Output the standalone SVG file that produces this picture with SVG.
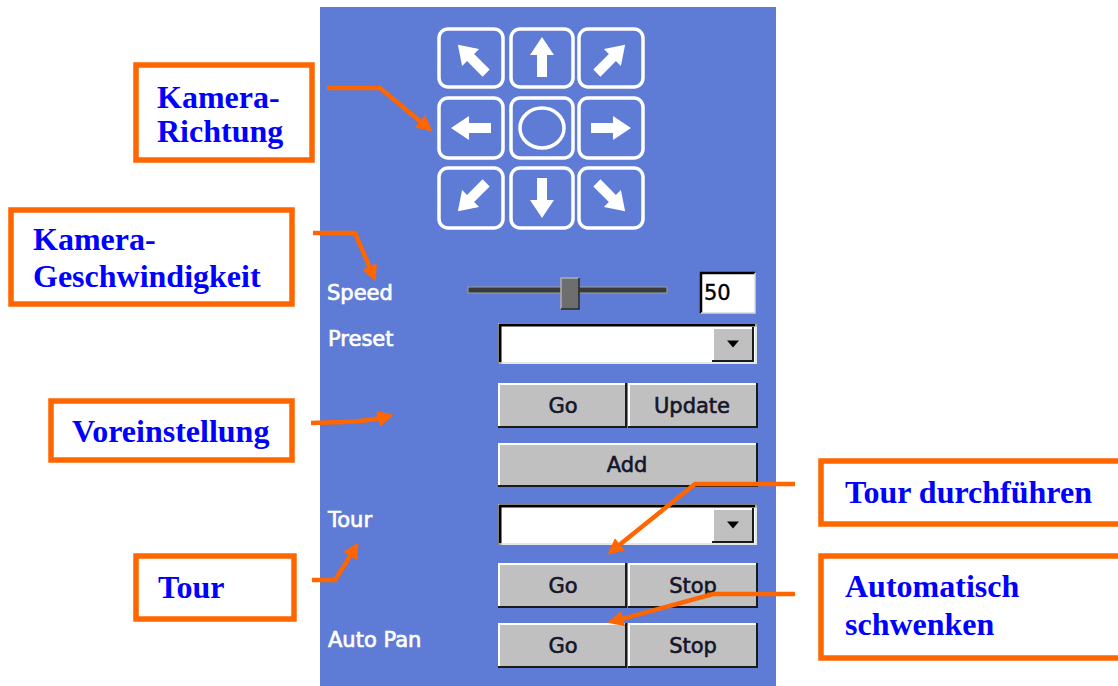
<svg xmlns="http://www.w3.org/2000/svg" width="1118" height="686" viewBox="0 0 1118 686">
  <style>
    .callout { fill: #ffffff; stroke: #ff6600; stroke-width: 5.5; }
    .ctext { font-family: "Liberation Serif", "Times New Roman", serif; font-weight: bold; font-size: 32px; fill: #0000ff; }
    .wire { fill: none; stroke: #ff6600; stroke-width: 4.5; stroke-linejoin: miter; marker-end: url(#head); }
    .lbl { font-family: "DejaVu Sans", Verdana, sans-serif; font-size: 21px; fill: #ffffff; stroke: #ffffff; stroke-width: 0.7; }
    .btxt { font-family: "DejaVu Sans", Verdana, sans-serif; font-size: 21px; fill: #15152a; stroke: #15152a; stroke-width: 0.6; text-anchor: middle; }
    .face { fill: #c0c0c0; }
    .hi { fill: none; stroke: #ffffff; stroke-width: 2; }
    .sh { fill: none; stroke: #1a1a1a; stroke-width: 2; }
    .pad { fill: none; stroke: #ffffff; stroke-width: 3.5; }
    .padarrow { fill: #ffffff; }
  </style>
  <defs>
    <marker id="head" viewBox="0 0 10 10" refX="7" refY="5" markerWidth="18" markerHeight="16" markerUnits="userSpaceOnUse" orient="auto">
      <path d="M0,0 L10,5 L0,10 Z" fill="#ff6600"/>
    </marker>
    <!-- white direction arrow, pointing up, centred on the origin -->
    <path id="dirArrow" class="padarrow" d="M0,-20 L12,-2 L5,-2 L5,20 L-5,20 L-5,-2 L-12,-2 Z"/>
    <path id="tri" d="M-6,-3.5 L6,-3.5 L0,3.5 Z" fill="#000000"/>
  </defs>

  <!-- control panel background -->
  <rect id="panel" x="320" y="7" width="456" height="679" fill="#5e7bd6"/>

  <!-- direction pad -->
  <g id="dpad">
    <rect class="pad" x="439" y="29" width="64" height="58" rx="9"/>
    <rect class="pad" x="511" y="29" width="62" height="58" rx="9"/>
    <rect class="pad" x="579" y="29" width="64" height="58" rx="9"/>
    <rect class="pad" x="439" y="98" width="64" height="60" rx="9"/>
    <rect class="pad" x="511" y="98" width="62" height="60" rx="9"/>
    <rect class="pad" x="579" y="98" width="64" height="60" rx="9"/>
    <rect class="pad" x="439" y="168" width="64" height="60" rx="9"/>
    <rect class="pad" x="511" y="168" width="62" height="60" rx="9"/>
    <rect class="pad" x="579" y="168" width="64" height="60" rx="9"/>
    <use href="#dirArrow" transform="translate(472,59) rotate(-45)"/>
    <use href="#dirArrow" transform="translate(542,57)"/>
    <use href="#dirArrow" transform="translate(611,59) rotate(45)"/>
    <use href="#dirArrow" transform="translate(471,128) rotate(-90)"/>
    <ellipse class="pad" cx="542" cy="128" rx="22" ry="20"/>
    <use href="#dirArrow" transform="translate(611,128) rotate(90)"/>
    <use href="#dirArrow" transform="translate(472,197) rotate(-135)"/>
    <use href="#dirArrow" transform="translate(542,198) rotate(180)"/>
    <use href="#dirArrow" transform="translate(611,197) rotate(135)"/>
  </g>

  <!-- speed slider -->
  <g id="speed">
    <text class="lbl" x="327" y="300">Speed</text>
    <rect x="468" y="287" width="199" height="6" fill="#3a3a3a" stroke="#a0a0a0" stroke-width="1"/>
    <rect x="561" y="278" width="18" height="31" fill="#6e6e6e"/>
    <path d="M561,309 V278 H579" fill="none" stroke="#b0b0b0" stroke-width="1.5"/>
    <path d="M579,278 V309 H561" fill="none" stroke="#2a2a2a" stroke-width="1.5"/>
    <rect x="700" y="272" width="55" height="41" fill="#ffffff"/>
    <path d="M701,313 V273 H755" fill="none" stroke="#000000" stroke-width="2.5"/>
    <path d="M755,273 V313 H701" fill="none" stroke="#d8d8d8" stroke-width="1.5"/>
    <text x="704" y="300" font-family="DejaVu Sans, sans-serif" font-size="21" fill="#000000" stroke="#000000" stroke-width="0.4">50</text>
  </g>

  <!-- preset selection -->
  <g id="preset">
    <text class="lbl" x="328" y="346">Preset</text>
    <rect x="498" y="323" width="259" height="41" fill="#ffffff"/>
    <path d="M500,364 V325 H757" fill="none" stroke="#000000" stroke-width="3"/>
    <path d="M756,324 V363 H499" fill="none" stroke="#e0e0e0" stroke-width="1.5"/>
    <rect class="face" x="712" y="327" width="41" height="34"/>
    <path class="hi" d="M713,361 V328 H753"/>
    <path class="sh" d="M753,327 V361 H712"/>
    <use href="#tri" transform="translate(733,344)"/>
  </g>

  <g id="preset-go">
    <rect class="face" x="498" y="383" width="128" height="44"/>
    <path class="hi" d="M499,427 V384 H626"/>
    <path class="sh" d="M626,383 V427 H498"/>
    <text class="btxt" x="563" y="413">Go</text>
  </g>
  <g id="preset-update">
    <rect class="face" x="628" y="383" width="129" height="44"/>
    <path class="hi" d="M629,427 V384 H757"/>
    <path class="sh" d="M757,383 V427 H628"/>
    <text class="btxt" x="692" y="413">Update</text>
  </g>
  <g id="preset-add">
    <rect class="face" x="498" y="443" width="259" height="43"/>
    <path class="hi" d="M499,486 V444 H757"/>
    <path class="sh" d="M757,443 V486 H498"/>
    <text class="btxt" x="627" y="472">Add</text>
  </g>

  <!-- tour selection -->
  <g id="tour">
    <text class="lbl" x="328" y="527">Tour</text>
    <rect x="498" y="504" width="259" height="41" fill="#ffffff"/>
    <path d="M500,545 V506 H757" fill="none" stroke="#000000" stroke-width="3"/>
    <path d="M756,505 V544 H499" fill="none" stroke="#e0e0e0" stroke-width="1.5"/>
    <rect class="face" x="712" y="508" width="41" height="34"/>
    <path class="hi" d="M713,542 V509 H753"/>
    <path class="sh" d="M753,508 V542 H712"/>
    <use href="#tri" transform="translate(733,525)"/>
  </g>
  <g id="tour-go">
    <rect class="face" x="498" y="563" width="128" height="44"/>
    <path class="hi" d="M499,607 V564 H626"/>
    <path class="sh" d="M626,563 V607 H498"/>
    <text class="btxt" x="563" y="593">Go</text>
  </g>
  <g id="tour-stop">
    <rect class="face" x="628" y="563" width="129" height="44"/>
    <path class="hi" d="M629,607 V564 H757"/>
    <path class="sh" d="M757,563 V607 H628"/>
    <text class="btxt" x="693" y="593">Stop</text>
  </g>

  <!-- auto pan -->
  <g id="autopan">
    <text class="lbl" x="328" y="647">Auto Pan</text>
  </g>
  <g id="autopan-go">
    <rect class="face" x="498" y="623" width="128" height="44"/>
    <path class="hi" d="M499,667 V624 H626"/>
    <path class="sh" d="M626,623 V667 H498"/>
    <text class="btxt" x="563" y="653">Go</text>
  </g>
  <g id="autopan-stop">
    <rect class="face" x="628" y="623" width="129" height="44"/>
    <path class="hi" d="M629,667 V624 H757"/>
    <path class="sh" d="M757,623 V667 H628"/>
    <text class="btxt" x="693" y="653">Stop</text>
  </g>

  <!-- callouts -->
  <g id="callout-richtung">
    <rect class="callout" x="136" y="65" width="176" height="95"/>
    <text class="ctext" x="157" y="108">Kamera-</text>
    <text class="ctext" x="157" y="142">Richtung</text>
  </g>
  <g id="callout-geschwindigkeit">
    <rect class="callout" x="11" y="210" width="281" height="94"/>
    <text class="ctext" x="33" y="250">Kamera-</text>
    <text class="ctext" x="33" y="287">Geschwindigkeit</text>
  </g>
  <g id="callout-voreinstellung">
    <rect class="callout" x="51" y="401" width="241" height="59"/>
    <text class="ctext" x="72" y="442">Voreinstellung</text>
  </g>
  <g id="callout-tour">
    <rect class="callout" x="136" y="556" width="158" height="63"/>
    <text class="ctext" x="158" y="598">Tour</text>
  </g>
  <g id="callout-durchfuehren">
    <rect class="callout" x="821" y="461" width="320" height="63"/>
    <text class="ctext" x="845" y="503">Tour durchführen</text>
  </g>
  <g id="callout-schwenken">
    <rect class="callout" x="821" y="556" width="320" height="102"/>
    <text class="ctext" x="845" y="597">Automatisch</text>
    <text class="ctext" x="845" y="635">schwenken</text>
  </g>

  <!-- connectors -->
  <g id="connectors">
    <path class="wire" d="M327,88 L380,88 L428.8,128.5"/>
    <path class="wire" d="M313,233 L355,233 L373.9,277"/>
    <path class="wire" d="M311,423 L345,422 Q370,421 389,416"/>
    <path class="wire" d="M312,580 L335,580 L356.1,546.6"/>
    <path class="wire" d="M795,484 L695,484 L611.2,551.6"/>
    <path class="wire" d="M795,594 L713,594 L612.2,621.6"/>
  </g>
</svg>
